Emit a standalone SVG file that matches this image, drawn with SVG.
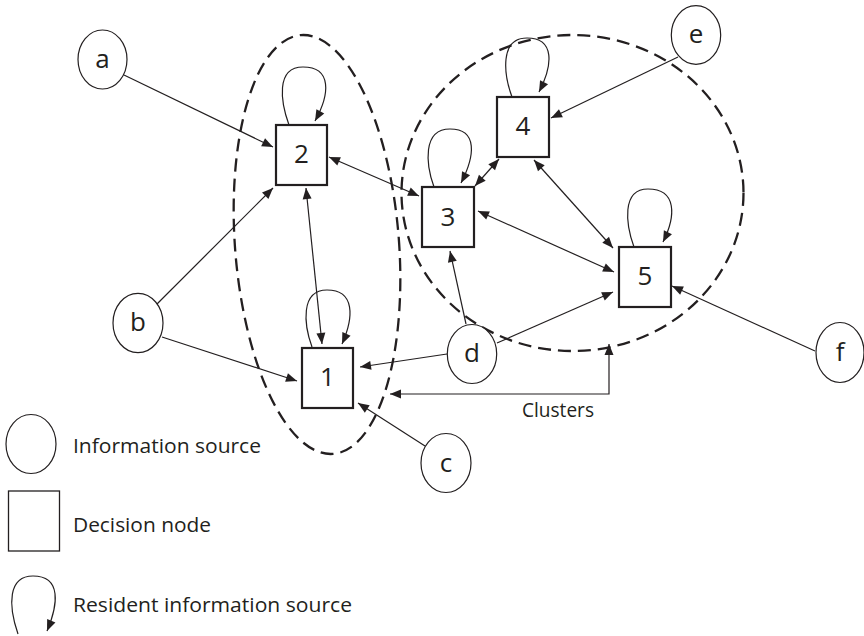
<svg xmlns="http://www.w3.org/2000/svg" width="864" height="636" viewBox="0 0 864 636">
<defs>
<marker id="ah" markerUnits="userSpaceOnUse" markerWidth="12" markerHeight="10" refX="11" refY="4.5" orient="auto-start-reverse" viewBox="0 0 12 9" overflow="visible">
<path d="M0,0 L11,4.5 L0,9 z" fill="#231f20"/>
</marker>
<style>
.src{fill:#fff;stroke:#231f20;stroke-width:1.2}
.dec{fill:#fff;stroke:#231f20;stroke-width:2.2}
.cl{fill:none;stroke:#231f20;stroke-width:2.3;stroke-dasharray:13 7}
.ln{fill:none;stroke:#231f20;stroke-width:1.2}
.e1{marker-end:url(#ah)}
.e2{marker-start:url(#ah);marker-end:url(#ah)}
.lbl{font-family:"Open Sans","Noto Sans","Liberation Sans",sans-serif;font-size:26px;fill:#231f20;text-anchor:middle}
.txt{font-family:"Open Sans","Noto Sans","Liberation Sans",sans-serif;font-size:20px;fill:#231f20}
</style>
</defs>
<rect width="864" height="636" fill="#fff"/>
<g id="clusters">
<ellipse class="cl" cx="317" cy="244.5" rx="82" ry="210" transform="rotate(-4.4 317 244.5)"/>
<ellipse class="cl" cx="572.5" cy="193" rx="171" ry="158"/>
</g>
<g id="connectors">
<path class="ln e1" d="M124,75 L273,147"/>
<path class="ln e1" d="M157,304 L273,188"/>
<path class="ln e2" d="M329,157 L419,196"/>
<path class="ln e2" d="M306,188 L322,344"/>
<path class="ln e1" d="M162,337 L297,381"/>
<path class="ln e1" d="M447,354 L360,367"/>
<path class="ln e1" d="M466,324 L450,251"/>
<path class="ln e1" d="M497,343 L613,292"/>
<path class="ln e1" d="M425,446 L358,403"/>
<path class="ln e1" d="M678,57 L551,118"/>
<path class="ln e2" d="M499,159 L475,186"/>
<path class="ln e2" d="M534,160 L613,248"/>
<path class="ln e2" d="M478,211 L614,272"/>
<path class="ln e1" d="M815,351 L672,286"/>
<path class="ln e2" d="M609,344 L609,394 L390,394"/>
<path class="ln e1" d="M289,125 C281,103 275,67 303,67 C332,67 330,94 315,121"/>
<path class="ln e1" d="M434,187 C426,165 422,129 450,129 C478,129 475,156 461,183"/>
<path class="ln e1" d="M512,97 C504,75 499,38 527,38 C555,38 553,65 539,92"/>
<path class="ln e1" d="M634,247 C626,225 621,189 648,189 C677,189 676,216 663,242"/>
<path class="ln e1" d="M312,347 C304,325 300,290 327,290 C355,290 354,317 342,344"/>
</g>
<g id="a"><ellipse class="src" cx="102.5" cy="59.5" rx="24.5" ry="29.5"/><text class="lbl" x="102.5" y="68">a</text></g>
<g id="b"><ellipse class="src" cx="138" cy="323" rx="25" ry="29.7"/><text class="lbl" x="138" y="331">b</text></g>
<g id="c"><ellipse class="src" cx="446" cy="463" rx="25" ry="29.5"/><text class="lbl" x="446" y="472">c</text></g>
<g id="d"><ellipse class="src" cx="472" cy="354" rx="24.7" ry="29.5"/><text class="lbl" x="472" y="362">d</text></g>
<g id="e"><ellipse class="src" cx="696" cy="35" rx="24.7" ry="29.3"/><text class="lbl" x="696" y="43">e</text></g>
<g id="f"><ellipse class="src" cx="840" cy="352.5" rx="24" ry="30"/><text class="lbl" x="840" y="361">f</text></g>
<g id="n1"><rect class="dec" x="302" y="348" width="51" height="60"/><text class="lbl" x="327.5" y="386">1</text></g>
<g id="n2"><rect class="dec" x="276" y="125" width="51" height="60"/><text class="lbl" x="301.5" y="163">2</text></g>
<g id="n3"><rect class="dec" x="422" y="187" width="52" height="60"/><text class="lbl" x="448" y="226">3</text></g>
<g id="n4"><rect class="dec" x="497" y="97" width="52" height="60"/><text class="lbl" x="523" y="135">4</text></g>
<g id="n5"><rect class="dec" x="619" y="247" width="52" height="60"/><text class="lbl" x="645" y="285">5</text></g>
<text class="txt" x="522" y="417" textLength="72" lengthAdjust="spacingAndGlyphs">Clusters</text>
<g id="legend">
<ellipse class="src" cx="31" cy="444" rx="25" ry="29.5"/>
<text class="txt" x="73" y="453" textLength="188" lengthAdjust="spacingAndGlyphs">Information source</text>
<rect x="8.5" y="491" width="51" height="60" fill="#fff" stroke="#231f20" stroke-width="1.3"/>
<text class="txt" x="73" y="532" textLength="138" lengthAdjust="spacingAndGlyphs">Decision node</text>
<path class="ln e1" d="M18,634 C8,605 8,576 33,576 C62,576 58,605 47,631"/>
<text class="txt" x="73" y="612" textLength="279" lengthAdjust="spacingAndGlyphs">Resident information source</text>
</g>
</svg>
